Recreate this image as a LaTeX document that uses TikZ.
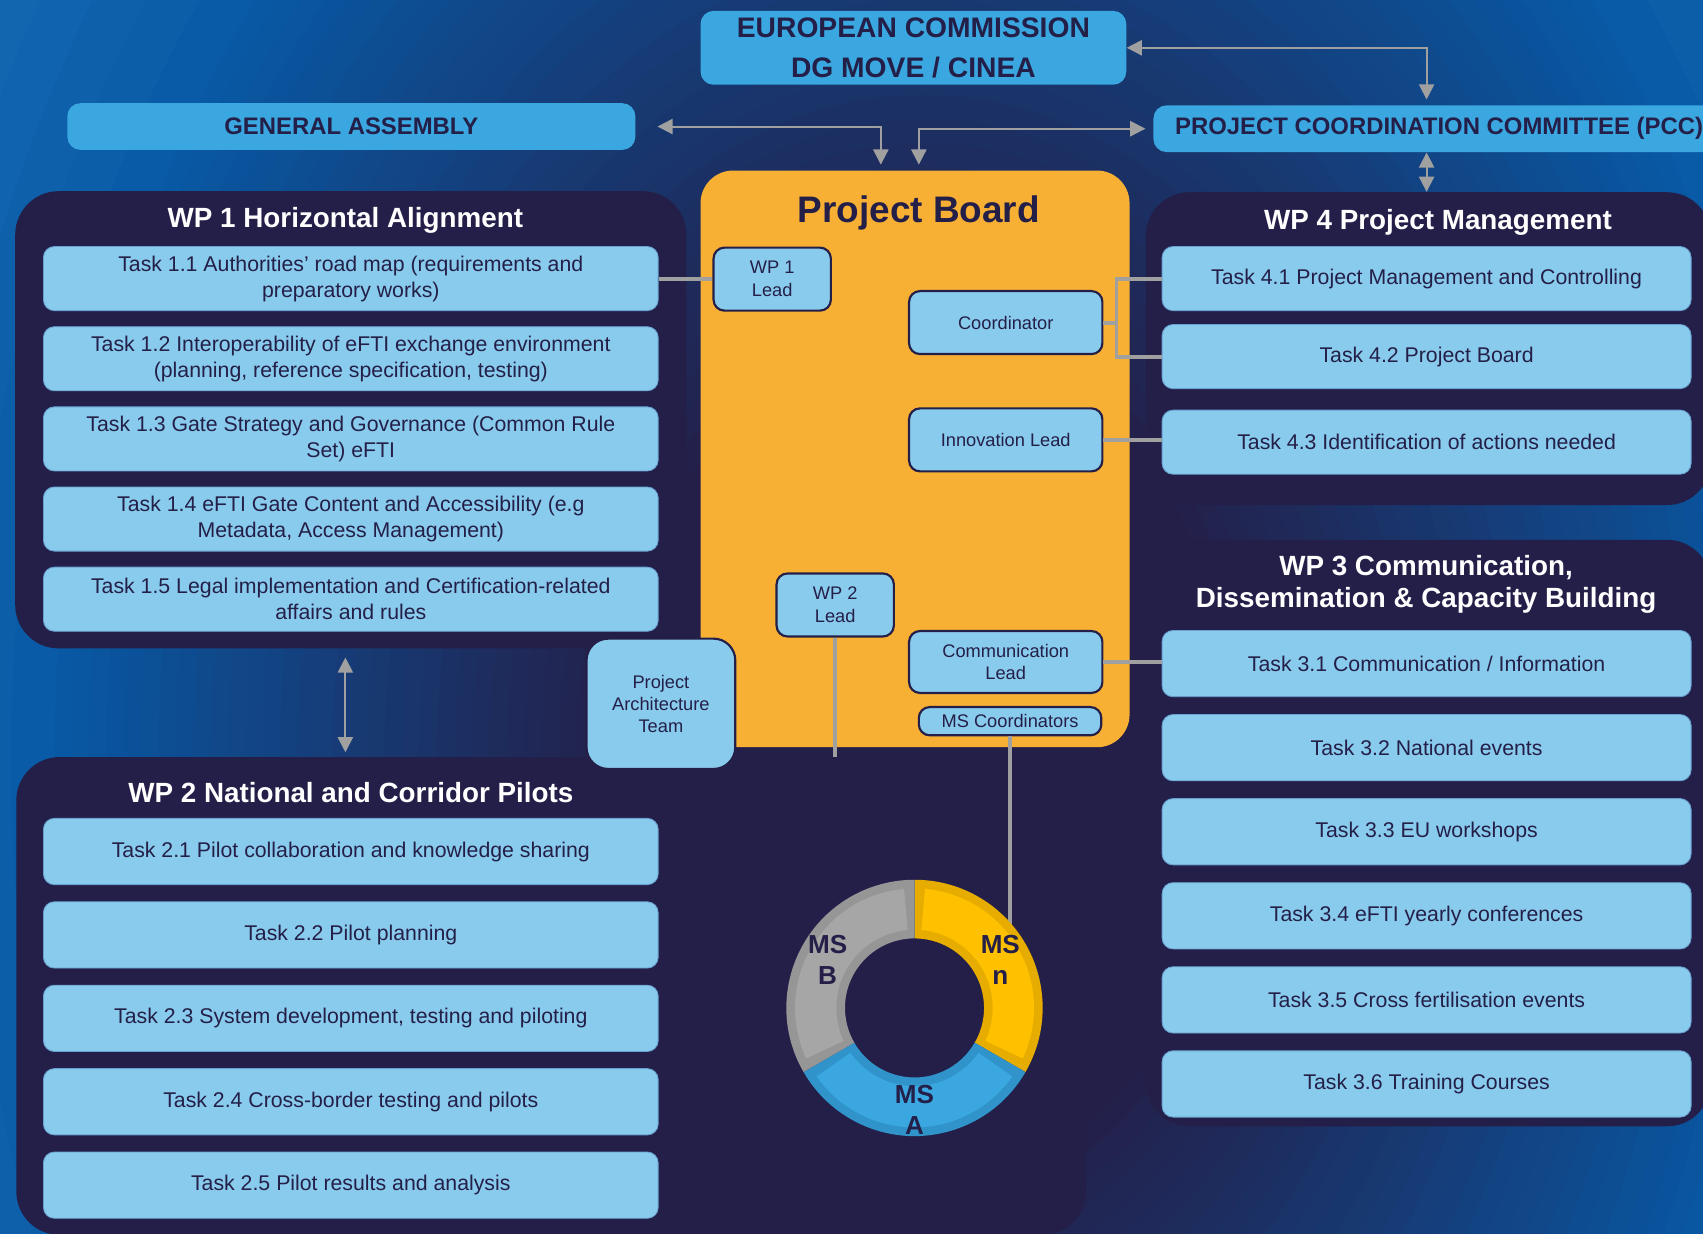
\documentclass[tikz,border=0pt]{standalone}
\usepackage{fontspec}
\setmainfont{Liberation Sans}
\usetikzlibrary{arrows.meta, positioning}
\definecolor{navybg}{RGB}{36,31,72}
\definecolor{bgblue}{RGB}{8,88,164}
\definecolor{bglight}{RGB}{28,116,188}
\definecolor{taskblue}{RGB}{137,203,236}
\definecolor{taskedge}{RGB}{104,160,208}
\definecolor{hdrblue}{RGB}{58,167,224}
\definecolor{boardorange}{RGB}{247,176,52}
\definecolor{linkgray}{RGB}{160,160,160}
\definecolor{msyellow}{RGB}{255,192,0}
\definecolor{msyellowdk}{RGB}{230,172,0}
\definecolor{msblue}{RGB}{58,167,224}
\definecolor{msbluedk}{RGB}{48,148,202}
\definecolor{msgray}{RGB}{166,166,166}
\definecolor{msgraydk}{RGB}{150,150,150}

\begin{document}
\begin{tikzpicture}[x=0.5pt,y=0.5pt,
    every node/.style={font=\fontsize{9.8pt}{12pt}\selectfont,text=navybg,align=center,inner sep=2pt},
    panel/.style={fill=navybg,rounded corners=20pt},
    wptitle/.style={text=white,font=\bfseries\fontsize{12.8pt}{15pt}\selectfont},
    task/.style={fill=taskblue,draw=taskedge,line width=0.4pt,rounded corners=5pt},
    hdr/.style={fill=hdrblue,rounded corners=6pt,font=\bfseries\fontsize{11pt}{13pt}\selectfont},
    lead/.style={fill=taskblue,draw=navybg,line width=1pt,rounded corners=5pt,font=\fontsize{8.4pt}{10.5pt}\selectfont},
    link/.style={draw=linkgray,line width=1.8pt},
    duplex/.style={draw=linkgray,line width=0.9pt,{Triangle[length=7pt,width=7pt]}-{Triangle[length=7pt,width=7pt]}},
    mslabel/.style={font=\bfseries\fontsize{12pt}{14.5pt}\selectfont}]
    \useasboundingbox (0,0) rectangle (1568,-1136);
    \clip (0,0) rectangle (1568,-1136);
    % Background glow
    \fill[bglight] (0,0) rectangle (1568,-1136);
    \coordinate (glow) at (850,-700);
    \foreach \i [evaluate=\i as \s using 1.5-0.05*\i, evaluate=\i as \p using int(10*\i)] in {0,...,10}
        \fill[bgblue!\p!bglight] (glow) ellipse [x radius=800*\s, y radius=1094*\s];
    \foreach \i [evaluate=\i as \s using 1-0.02*\i, evaluate=\i as \p using int(100*\i/32)] in {1,...,32}
        \fill[navybg!\p!bgblue] (glow) ellipse [x radius=800*\s, y radius=1094*\s];
    % Work package panels
    \node[panel,minimum width=309pt,minimum height=210.5pt] (wp1) at (323,-386.5) {};
    \node[panel,minimum width=492.5pt,minimum height=220pt] (wp2) at (507.5,-917) {};
    \node[panel,minimum width=260pt,minimum height=144pt] (wp4) at (1315,-321) {};
    \node[panel,minimum width=260pt,minimum height=270pt] (wp3) at (1315,-767) {};
    \node[wptitle] (wp1t) at (318,-203) {WP 1 Horizontal Alignment};
    \node[wptitle] (wp2t) at (323,-730) {WP 2 National and Corridor Pilots};
    \node[wptitle] (wp4t) at (1324,-205) {WP 4 Project Management};
    \node[wptitle] (wp3t) at (1313,-538) {WP 3 Communication,\\Dissemination \& Capacity Building};
    % Governance boxes
    \node[hdr,minimum width=196pt,minimum height=34pt,font=\bfseries\fontsize{13pt}{18.5pt}\selectfont] (ec) at (841,-44) {EUROPEAN COMMISSION\\DG MOVE / CINEA};
    \node[hdr,minimum width=261.5pt,minimum height=21.5pt] (ga) at (323.5,-116.5) {GENERAL ASSEMBLY};
    \node[hdr,minimum width=263pt,minimum height=21.5pt] (pcc) at (1325,-118.5) {PROJECT COORDINATION COMMITTEE (PCC)};
    % Project board
    \node[fill=boardorange,rounded corners=15pt,minimum width=197.5pt,minimum height=265.5pt] (pb) at (842.5,-422.5) {};
    \node[font=\bfseries\fontsize{17pt}{20pt}\selectfont] (pbt) at (846,-196) {Project Board};
    % WP 1 tasks
    \node[task,minimum width=283pt,minimum height=29.5pt] (t11) at (323,-256.5) {Task 1.1 Authorities' road map (requirements and\\preparatory works)};
    \node[task,minimum width=283pt,minimum height=29.5pt,below=7pt of t11] (t12) {Task 1.2 Interoperability of eFTI exchange environment\\(planning, reference specification, testing)};
    \node[task,minimum width=283pt,minimum height=29.5pt,below=7pt of t12] (t13) {Task 1.3 Gate Strategy and Governance (Common Rule\\Set) eFTI};
    \node[task,minimum width=283pt,minimum height=29.5pt,below=7pt of t13] (t14) {Task 1.4 eFTI Gate Content and Accessibility (e.g\\Metadata, Access Management)};
    \node[task,minimum width=283pt,minimum height=29.5pt,below=7pt of t14] (t15) {Task 1.5 Legal implementation and Certification-related\\affairs and rules};
    % WP 2 tasks
    \node[task,minimum width=283pt,minimum height=30.5pt] (t21) at (323,-784) {Task 2.1 Pilot collaboration and knowledge sharing};
    \node[task,minimum width=283pt,minimum height=30.5pt,below=7.5pt of t21] (t22) {Task 2.2 Pilot planning};
    \node[task,minimum width=283pt,minimum height=30.5pt,below=7.5pt of t22] (t23) {Task 2.3 System development, testing and piloting};
    \node[task,minimum width=283pt,minimum height=30.5pt,below=7.5pt of t23] (t24) {Task 2.4 Cross-border testing and pilots};
    \node[task,minimum width=283pt,minimum height=30.5pt,below=7.5pt of t24] (t25) {Task 2.5 Pilot results and analysis};
    % WP 4 tasks
    \node[task,minimum width=243.5pt,minimum height=29.5pt] (t41) at (1313.5,-256.5) {Task 4.1 Project Management and Controlling};
    \node[task,minimum width=243.5pt,minimum height=29.5pt,below=6pt of t41] (t42) {Task 4.2 Project Board};
    \node[task,minimum width=243.5pt,minimum height=29.5pt,below=9.5pt of t42] (t43) {Task 4.3 Identification of actions needed};
    % WP 3 tasks
    \node[task,minimum width=243.5pt,minimum height=30.5pt] (t31) at (1313.5,-611) {Task 3.1 Communication / Information};
    \node[task,minimum width=243.5pt,minimum height=30.5pt,below=7.8pt of t31] (t32) {Task 3.2 National events};
    \node[task,minimum width=243.5pt,minimum height=30.5pt,below=7.8pt of t32] (t33) {Task 3.3 EU workshops};
    \node[task,minimum width=243.5pt,minimum height=30.5pt,below=7.8pt of t33] (t34) {Task 3.4 eFTI yearly conferences};
    \node[task,minimum width=243.5pt,minimum height=30.5pt,below=7.8pt of t34] (t35) {Task 3.5 Cross fertilisation events};
    \node[task,minimum width=243.5pt,minimum height=30.5pt,below=7.8pt of t35] (t36) {Task 3.6 Training Courses};
    % Board members
    \node[lead,minimum width=54pt,minimum height=29pt] (wp1l) at (711,-257) {WP 1\\Lead};
    \node[lead,minimum width=89pt,minimum height=29pt] (coord) at (926,-297) {Coordinator};
    \node[lead,minimum width=89pt,minimum height=29pt] (innov) at (926,-405) {Innovation Lead};
    \node[lead,minimum width=54pt,minimum height=29pt] (wp2l) at (769,-557) {WP 2\\Lead};
    \node[lead,minimum width=89pt,minimum height=28.5pt] (comm) at (926,-609.5) {Communication\\Lead};
    \node[lead,minimum width=84pt,minimum height=13pt,inner sep=1pt] (msc) at (930,-664) {MS Coordinators};
    \node[lead,minimum width=68.5pt,minimum height=60pt,rounded corners=10pt,font=\fontsize{8.4pt}{10pt}\selectfont] (pat) at (608.5,-648) {Project\\Architecture\\Team};
    % Links from board to tasks
    \draw[link] (t11.east) -- (t11.east -| wp1l.west);
    \coordinate (pmjoin) at ([xshift=6pt]coord.east);
    \draw[link] (coord.east) -- (pmjoin);
    \draw[link] (t41.west) -| (pmjoin) |- (t42.west);
    \draw[link] (innov.east) -- (innov.east -| t43.west);
    \draw[link] (comm.east) -- (comm.east -| t31.west);
    \coordinate (wp2end) at (769,-697);
    \draw[link] (wp2l.south) -- (wp2end);
    \coordinate (msring) at (930,-853);
    \draw[link] (msc.south) -- (msring);
    % Reporting arrows
    \path (pcc.north -| t41.north) ++(0,5) coordinate (pccin);
    \path (pb.north) ++(-31.5,5) coordinate (pbga);
    \path (pb.north) ++(3.5,5) coordinate (pbpcc);
    \draw[duplex] (ec.east) -| (pccin);
    \draw[duplex,shorten <=10pt] (ga.east) -| (pbga);
    \draw[duplex,shorten >=3.5pt] (pbpcc) |- (pcc.west);
    \draw[duplex] (pcc.south -| t41.north) -- (wp4.north -| t41.north);
    \path (wp1.south -| wp1t.south) ++(0,-8) coordinate (wp1low);
    \path (wp2.north -| wp1t.south) ++(0,4) coordinate (wp2high);
    \draw[duplex] (wp1low) -- (wp2high);
    % Member state ring
    \coordinate (ring) at (842,-928);
    \foreach \a/\b/\rim/\body in {90/-30/msyellowdk/msyellow, -30/-150/msbluedk/msblue, 210/90/msgraydk/msgray} {
        \fill[\rim] ([shift={(\a:118)}]ring) arc[start angle=\a, end angle=\b, radius=118] -- ([shift={(\b:64)}]ring) arc[start angle=\b, end angle=\a, radius=64] -- cycle;
        \fill[\body] ([shift={(\a-5:110)}]ring) arc[start angle=\a-5, end angle=\b+5, radius=110] -- ([shift={(\b+5:72)}]ring) arc[start angle=\b+5, end angle=\a-5, radius=72] -- cycle;
    }
    \node[mslabel] (msb) at (762,-884) {MS\\B};
    \node[mslabel] (msn) at (921,-884) {MS\\n};
    \node[mslabel] (msa) at (842,-1022) {MS\\A};
\end{tikzpicture}
\end{document}
